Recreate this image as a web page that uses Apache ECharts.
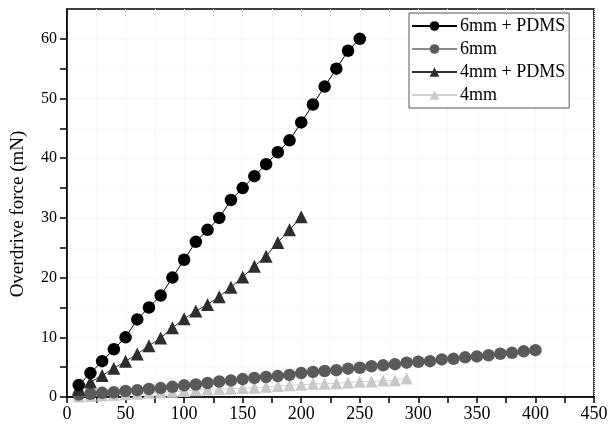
<!DOCTYPE html>
<html>
<head>
<meta charset="utf-8">
<script src="https://cdn.jsdelivr.net/npm/echarts@6/dist/echarts.min.js"></script>
<style>html,body{margin:0;padding:0;background:#fff}#c{width:611px;height:427px}</style>
</head>
<body>
<div id="c"></div>
<script>
// Data
const seriesNames = ['6mm + PDMS', '6mm', '4mm + PDMS', '4mm'];
const x6pdms = [10,20,30,40,50,60,70,80,90,100,110,120,130,140,150,160,170,180,190,200,210,220,230,240,250];
const y6pdms = [2,4,6,8,10,13,15,17,20,23,26,28,30,33,35,37,39,41,43,46,49,52,55,58,60];
const x6 = [10,20,30,40,50,60,70,80,90,100,110,120,130,140,150,160,170,180,190,200,210,220,230,240,250,260,270,280,290,300,310,320,330,340,350,360,370,380,390,400];
const y6 = [0.4,0.55,0.7,0.8,1.0,1.15,1.35,1.5,1.7,1.95,2.1,2.35,2.6,2.75,3.0,3.2,3.35,3.5,3.7,4.0,4.2,4.35,4.5,4.75,4.9,5.15,5.3,5.5,5.75,5.9,6.0,6.3,6.4,6.65,6.8,7.0,7.25,7.4,7.65,7.85];
const x4pdms = [10,20,30,40,50,60,70,80,90,100,110,120,130,140,150,160,170,180,190,200];
const y4pdms = [1.3,2.5,3.6,4.8,6.0,7.2,8.6,9.9,11.6,13.1,14.4,15.5,16.8,18.4,20.1,21.9,23.6,25.9,28.0,30.2];
const x4 = [10,20,30,40,50,60,70,80,90,100,110,120,130,140,150,160,170,180,190,200,210,220,230,240,250,260,270,280,290];
const y4 = [0.1,0.15,0.25,0.35,0.45,0.55,0.7,0.8,0.9,1.0,1.15,1.25,1.35,1.4,1.5,1.55,1.7,1.85,1.95,2.05,2.2,2.2,2.3,2.45,2.55,2.6,2.75,2.8,3.1];
const xTicks = [0,50,100,150,200,250,300,350,400,450];
const yTicks = [0,10,20,30,40,50,60];

const zip = (xs, ys) => xs.map((x, i) => [x, ys[i]]);
const font = '"Liberation Serif", "Times New Roman", serif';

function mk(name, data, color, lineColor, symbol, size) {
  return {
    name, type: 'line', data: zip(...data),
    symbol, symbolSize: size,
    itemStyle: { color: color, borderWidth: 0 },
    lineStyle: { color: lineColor, width: 1 },
    emphasis: { disabled: true },
    animation: false
  };
}

const chart = echarts.init(document.getElementById('c'), null, { renderer: 'canvas' });
chart.setOption({
  animation: false,
  grid: { left: 67, right: 17, top: 9, bottom: 30, show: true, borderColor: '#000', borderWidth: 1.5, backgroundColor: 'transparent' },
  legend: {
    orient: 'vertical', left: 409, top: 13,
    data: seriesNames,
    itemWidth: 45, itemHeight: 12, itemGap: 5,
    padding: [4, 4, 4, 2],
    borderColor: '#555', borderWidth: 1, backgroundColor: '#fff',
    textStyle: { fontFamily: font, fontSize: 18, color: '#000', padding: [0, 0, 0, -2] }
  },
  xAxis: {
    type: 'value', min: 0, max: 450, interval: 25,
    axisLine: { onZero: false, lineStyle: { color: '#000', width: 1.5 } },
    axisTick: { show: true, inside: false, length: 6, lineStyle: { color: '#000', width: 1.5 } },
    axisLabel: { fontFamily: font, fontSize: 18, color: '#000', margin: 8,
      formatter: v => xTicks.includes(v) ? String(v) : '' },
    splitLine: { show: true, lineStyle: { color: '#efefef', type: 'dotted', width: 1 } }
  },
  yAxis: {
    type: 'value', min: 0, max: 65, interval: 5,
    name: 'Overdrive force (mN)', nameLocation: 'middle', nameGap: 39,
    nameTextStyle: { fontFamily: font, fontSize: 19, color: '#000', padding: [0, 22, 0, 0] },
    axisLine: { onZero: false, lineStyle: { color: '#000', width: 1.5 } },
    axisTick: { show: true, inside: false, length: 7, lineStyle: { color: '#000', width: 1.5 },
      customValues: [0,5,10,15,20,25,30,35,40,45,50,55,60] },
    axisLabel: { fontFamily: font, fontSize: 16, color: '#000', margin: 10,
      formatter: v => yTicks.includes(v) ? String(v) : '' },
    splitLine: { show: true, lineStyle: { color: '#efefef', type: 'dotted', width: 1 } }
  },
  series: [
    mk(seriesNames[3], [x4, y4], '#c8c8c8', '#d0d0d0', 'triangle', 12),
    mk(seriesNames[1], [x6, y6], '#5a5a5a', '#8a8a8a', 'circle', 12.5),
    mk(seriesNames[2], [x4pdms, y4pdms], '#2e2e2e', '#2e2e2e', 'triangle', 13),
    mk(seriesNames[0], [x6pdms, y6pdms], '#000000', '#000000', 'circle', 12.5)
  ]
});
</script>
</body>
</html>
